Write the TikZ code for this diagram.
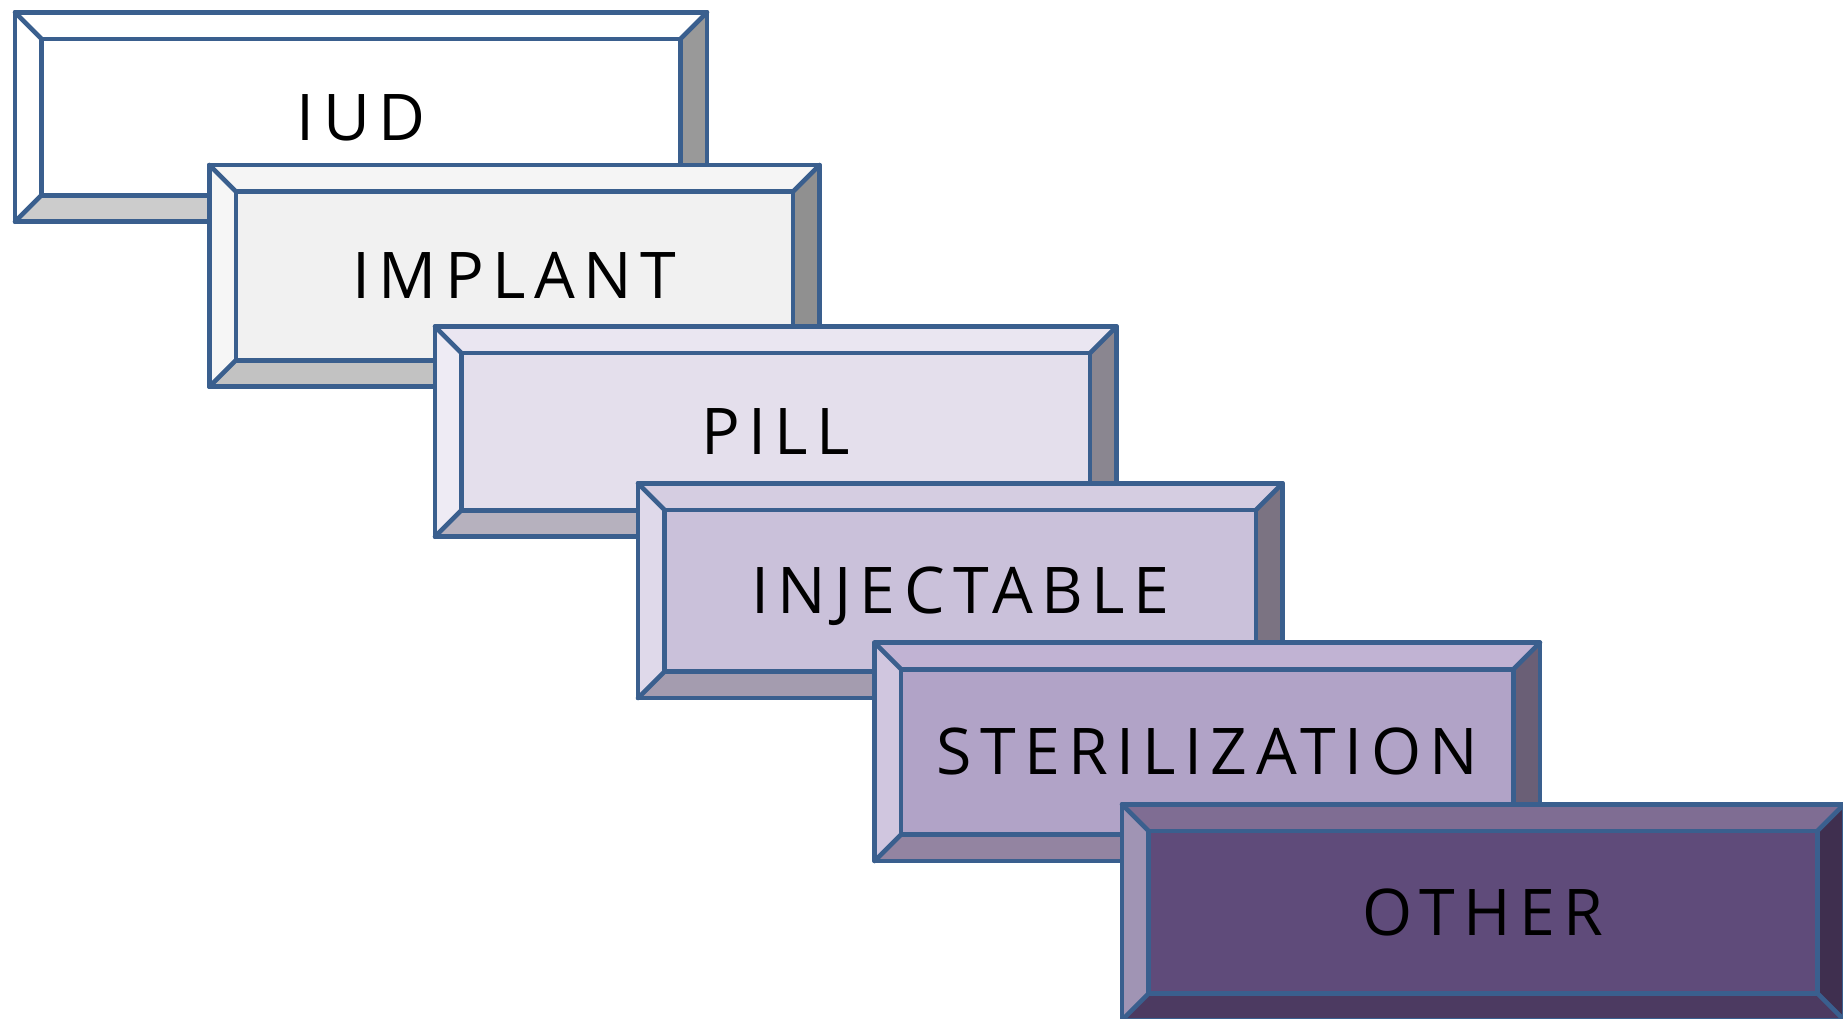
\documentclass[tikz,border=0pt]{standalone}
\usepackage{fontspec}
\setmainfont{Open Sans}[LetterSpace=13]
\definecolor{edge}{HTML}{3A5F8E}
% box 1 IUD
\definecolor{face1}{HTML}{FFFFFF}\definecolor{top1}{HTML}{FFFFFF}\definecolor{left1}{HTML}{FFFFFF}\definecolor{right1}{HTML}{999999}\definecolor{bot1}{HTML}{CCCCCC}
% box 2 IMPLANT
\definecolor{face2}{HTML}{F1F1F1}\definecolor{top2}{HTML}{F5F5F5}\definecolor{left2}{HTML}{F6F6F6}\definecolor{right2}{HTML}{909090}\definecolor{bot2}{HTML}{C2C2C2}
% box 3 PILL
\definecolor{face3}{HTML}{E4DFEC}\definecolor{top3}{HTML}{EAE6F1}\definecolor{left3}{HTML}{EEEBF4}\definecolor{right3}{HTML}{8A8690}\definecolor{bot3}{HTML}{B6B1BE}
% box 4 INJECTABLE
\definecolor{face4}{HTML}{CAC1DA}\definecolor{top4}{HTML}{D5CDE1}\definecolor{left4}{HTML}{DFD9EA}\definecolor{right4}{HTML}{7B7382}\definecolor{bot4}{HTML}{A49CAF}
% box 5 STERILIZATION
\definecolor{face5}{HTML}{B1A3C7}\definecolor{top5}{HTML}{C1B3D3}\definecolor{left5}{HTML}{D0C6DF}\definecolor{right5}{HTML}{6A5F76}\definecolor{bot5}{HTML}{9384A1}
% box 6 OTHER
\definecolor{face6}{HTML}{5F4B7A}\definecolor{top6}{HTML}{7F6D93}\definecolor{left6}{HTML}{A094B4}\definecolor{right6}{HTML}{3F2F4F}\definecolor{bot6}{HTML}{4C3A61}

\tikzset{
  boxline/.style={draw=edge, line width=2.3pt, line join=round, line cap=round},
  lbl/.style={inner sep=0pt, anchor=base, text=black, font=\fontsize{32.2}{36}\selectfont},
}
\newcommand\bevbox[6]{%
  % #1 index, #2 x1, #3 y1, #4 x2, #5 y2, #6 text
  \def\bb{26.5}
  \fill[top#1] (#2,#3) -- (#4,#3) -- ({#4-\bb},{#3+\bb}) -- ({#2+\bb},{#3+\bb}) -- cycle;
  \fill[left#1] (#2,#3) -- ({#2+\bb},{#3+\bb}) -- ({#2+\bb},{#5-\bb}) -- (#2,#5) -- cycle;
  \fill[right#1] (#4,#3) -- (#4,#5) -- ({#4-\bb},{#5-\bb}) -- ({#4-\bb},{#3+\bb}) -- cycle;
  \fill[bot#1] (#2,#5) -- (#4,#5) -- ({#4-\bb},{#5-\bb}) -- ({#2+\bb},{#5-\bb}) -- cycle;
  \fill[face#1] ({#2+\bb},{#3+\bb}) rectangle ({#4-\bb},{#5-\bb});
  \draw[boxline] (#2,#3) rectangle (#4,#5);
  \draw[boxline] ({#2+\bb},{#3+\bb}) rectangle ({#4-\bb},{#5-\bb});
  \draw[boxline] (#2,#3) -- ({#2+\bb},{#3+\bb});
  \draw[boxline] (#4,#3) -- ({#4-\bb},{#3+\bb});
  \draw[boxline] (#2,#5) -- ({#2+\bb},{#5-\bb});
  \draw[boxline] (#4,#5) -- ({#4-\bb},{#5-\bb});
  \node[lbl] (n#1) at ({(#2+#4)/2},{(#3+#5)/2+23}) {#6};
}
\begin{document}
\begin{tikzpicture}[x=0.5pt,y=-0.5pt]
\useasboundingbox (0,0) rectangle (1843,1018);
\bevbox{1}{15}{12.3}{707}{221.7}{IUD}
\bevbox{2}{209.3}{165}{819.5}{386.7}{IMPLANT}
\bevbox{3}{435}{326.5}{1116.5}{536.7}{PILL}
\bevbox{4}{638}{483.3}{1282.5}{698}{INJECTABLE}
\bevbox{5}{874.6}{642.7}{1540}{861}{STERILIZATION}
\bevbox{6}{1122}{804.3}{1844}{1020}{OTHER}
\end{tikzpicture}
\end{document}
